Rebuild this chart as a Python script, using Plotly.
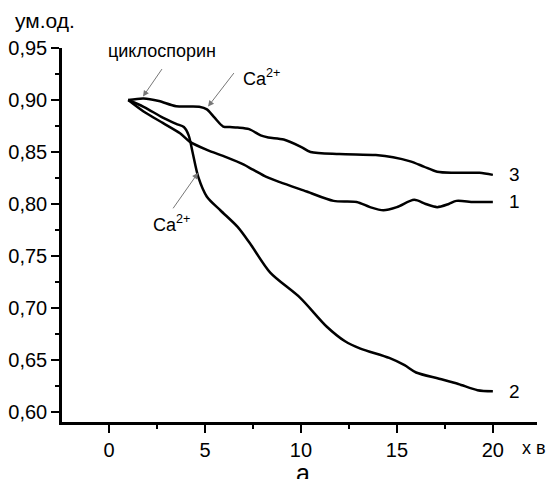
import plotly.graph_objects as go

# Curve 1
x1 = [1.0, 1.8, 2.8, 3.7, 4.2, 5.1, 6.1, 7.0, 7.5, 8.2, 8.9, 10.3, 11.7, 12.9, 13.6, 14.3, 15.0, 15.9, 16.5, 17.1, 17.7, 18.1, 19.0, 20.0]
y1 = [0.900, 0.889, 0.878, 0.868, 0.860, 0.852, 0.845, 0.838, 0.833, 0.826, 0.821, 0.812, 0.803, 0.802, 0.797, 0.794, 0.797, 0.804, 0.800, 0.797, 0.800, 0.803, 0.802, 0.802]

# Curve 2
x2 = [1.0, 1.8, 2.8, 3.5, 3.9, 4.15, 4.35, 4.65, 5.1, 5.8, 6.7, 7.35, 8.4, 9.95, 11.35, 12.3, 13.1, 14.6, 15.4, 16.0, 17.2, 18.2, 19.2, 20.0]
y2 = [0.900, 0.8935, 0.883, 0.877, 0.874, 0.866, 0.850, 0.826, 0.807, 0.794, 0.778, 0.762, 0.734, 0.710, 0.682, 0.668, 0.661, 0.652, 0.645, 0.638, 0.632, 0.627, 0.621, 0.620]

# Curve 3
x3 = [1.0, 1.8, 2.6, 3.5, 4.7, 5.1, 5.5, 5.95, 6.3, 6.7, 7.3, 7.9, 8.3, 9.1, 10.0, 10.5, 12.0, 13.9, 14.8, 15.7, 16.4, 17.1, 18.0, 19.3, 20.0]
y3 = [0.900, 0.9015, 0.899, 0.894, 0.8935, 0.891, 0.883, 0.8745, 0.874, 0.8735, 0.872, 0.866, 0.864, 0.862, 0.855, 0.850, 0.848, 0.847, 0.845, 0.841, 0.836, 0.831, 0.830, 0.830, 0.828]

curve_labels = ["1", "2", "3"]
ytick_vals = [0.60, 0.65, 0.70, 0.75, 0.80, 0.85, 0.90, 0.95]
ytick_text = ["0,60", "0,65", "0,70", "0,75", "0,80", "0,85", "0,90", "0,95"]
xtick_vals = [0, 5, 10, 15, 20]
xtick_text = ["0", "5", "10", "15", "20"]

FONT = "Liberation Sans, Arial, sans-serif"

fig = go.Figure()
for xs, ys in [(x1, y1), (x2, y2), (x3, y3)]:
    fig.add_trace(go.Scatter(x=xs, y=ys, mode="lines", line=dict(color="black", width=2.5, shape="spline", smoothing=0.8),
                             showlegend=False, hoverinfo="skip", cliponaxis=False))

# end labels
for lab, xs, ys in zip(curve_labels, [x1, x2, x3], [y1, y2, y3]):
    fig.add_annotation(x=xs[-1], y=ys[-1], text=lab, showarrow=False, xanchor="left", xshift=14,
                       font=dict(size=19, color="black", family=FONT))

# arrows
arrows = [(1.77, 0.9033, 20, -29), (5.16, 0.8937, 27, -35), (4.64, 0.830, -26, 37)]
for ax_, ay_, dx, dy in arrows:
    fig.add_annotation(x=ax_, y=ay_, text="", showarrow=True, ax=dx, ay=dy, arrowhead=2, arrowsize=1.2,
                       arrowwidth=1, arrowcolor="#777")

fig.add_annotation(x=2.77, y=0.9475, text="циклоспорин", showarrow=False, font=dict(size=18, color="black", family=FONT))
fig.add_annotation(x=6.9, y=0.922, text="Ca<sup>2+</sup>", showarrow=False, xanchor="left", font=dict(size=18, color="black", family=FONT))
fig.add_annotation(x=2.2, y=0.781, text="Ca<sup>2+</sup>", showarrow=False, xanchor="left", font=dict(size=18, color="black", family=FONT))

fig.add_annotation(xref="paper", yref="paper", x=-0.103, y=1.0, yshift=28, text="ум.од.", showarrow=False, xanchor="left",
                   yanchor="middle", font=dict(size=21, color="black", family=FONT))
fig.add_annotation(xref="paper", yref="paper", x=1.023, y=0, yshift=-26, text="х в", showarrow=False, xanchor="right",
                   yanchor="middle", font=dict(size=18, color="black", family=FONT))
fig.add_annotation(xref="paper", yref="paper", x=(303 - 62) / 475, y=0, yshift=-51, text="а", showarrow=False,
                   yanchor="middle", font=dict(size=25, color="black", family=FONT))

fig.update_xaxes(range=[-2.45, 22.3], automargin=False, showline=True, linecolor="black", linewidth=2.5, ticks="outside", ticklen=8,
                 tickwidth=2, tickcolor="black", tickvals=xtick_vals, ticktext=xtick_text, showgrid=False, zeroline=False,
                 tickfont=dict(size=20, color="black", family=FONT),
                 minor=dict(ticks="outside", ticklen=4, tickwidth=2, tickcolor="black", dtick=2.5, tick0=0, showgrid=False))
fig.update_yaxes(range=[0.5904, 0.95], automargin=False, showline=True, linecolor="black", linewidth=2.5, ticks="outside", ticklen=8,
                 tickwidth=2, tickcolor="black", tickvals=ytick_vals, ticktext=ytick_text, showgrid=False, zeroline=False,
                 tickfont=dict(size=20, color="black", family=FONT),
                 minor=dict(ticks="outside", ticklen=4, tickwidth=2, tickcolor="black", dtick=0.025, tick0=0.6, showgrid=False))

fig.update_layout(width=552, height=479, margin=dict(l=62, r=15, t=48, b=57), plot_bgcolor="white",
                  paper_bgcolor="white", font=dict(family=FONT, color="black"))

fig.write_html("out.html", config={"displayModeBar": False},
               post_script="document.body.style.margin='0';document.body.style.overflow='hidden';")
